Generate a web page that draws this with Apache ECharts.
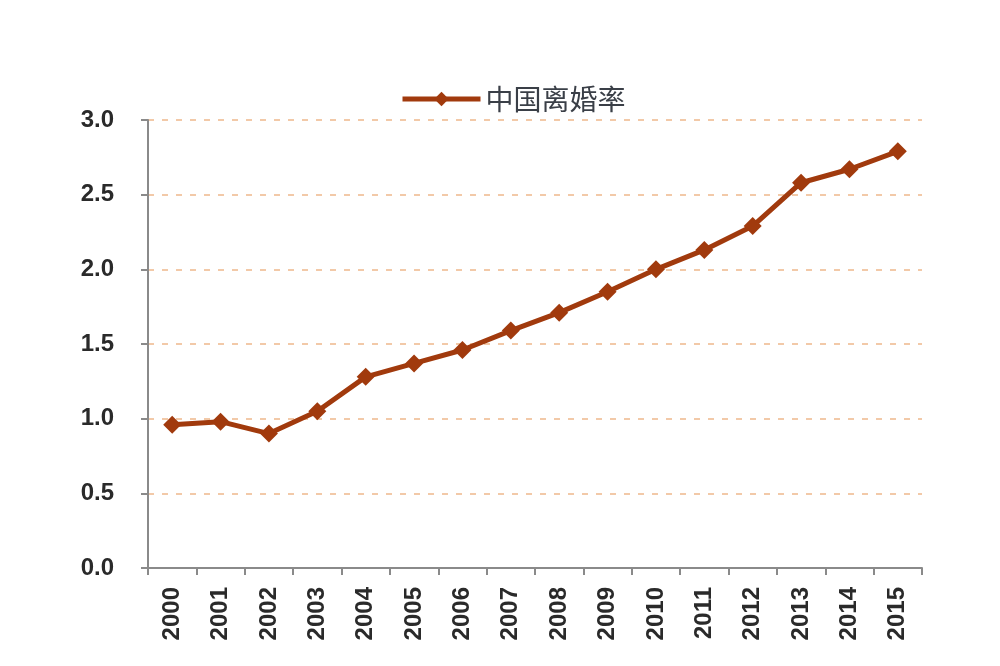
<!DOCTYPE html>
<html><head><meta charset="utf-8">
<script src="https://cdn.jsdelivr.net/npm/echarts@6/dist/echarts.min.js"></script>
<style>html,body{margin:0;padding:0;background:#fff;}#c{width:1000px;height:666px;}</style>
</head><body><div id="c"></div>
<script>
const years = ['2000','2001','2002','2003','2004','2005','2006','2007','2008','2009','2010','2011','2012','2013','2014','2015'];
const divorceRate = [0.96,0.98,0.90,1.05,1.28,1.37,1.46,1.59,1.71,1.85,2.00,2.13,2.29,2.58,2.67,2.79];
const seriesName = '中国离婚率';
const chart = echarts.init(document.getElementById('c'));
chart.setOption({
  backgroundColor:'#fff',
  animation:false,
  legend:{top:80,left:395,itemWidth:78,itemHeight:18,itemGap:1,
    lineStyle:{width:5},
    textStyle:{fontSize:28,color:'#3a3f47',fontFamily:'Noto Sans CJK SC'},
    data:[seriesName]},
  grid:{left:148,right:78,top:120,bottom:98},
  xAxis:{type:'category',data:years,boundaryGap:true,
    axisLine:{lineStyle:{color:'#8a8a8a',width:2}},
    axisTick:{show:true,length:7,lineStyle:{color:'#8a8a8a',width:2}},
    axisLabel:{rotate:90,fontSize:24,fontWeight:'bold',color:'#2a2a2a',margin:19,fontFamily:'Liberation Sans'}},
  yAxis:{type:'value',min:0,max:3,interval:0.5,
    axisLine:{show:true,lineStyle:{color:'#8a8a8a',width:2}},
    axisTick:{show:true,inside:false,length:7,lineStyle:{color:'#8a8a8a',width:2}},
    axisLabel:{fontSize:24,fontWeight:'bold',color:'#2a2a2a',margin:34,formatter:v=>v.toFixed(1),fontFamily:'Liberation Sans'},
    splitLine:{show:true,lineStyle:{color:'#f2c9a8',type:[6,8],width:2}}},
  series:[{name:seriesName,type:'line',data:divorceRate,symbol:'diamond',symbolSize:18,
    lineStyle:{color:'#a13a0d',width:5},itemStyle:{color:'#a13a0d'}}]
});
</script></body></html>
